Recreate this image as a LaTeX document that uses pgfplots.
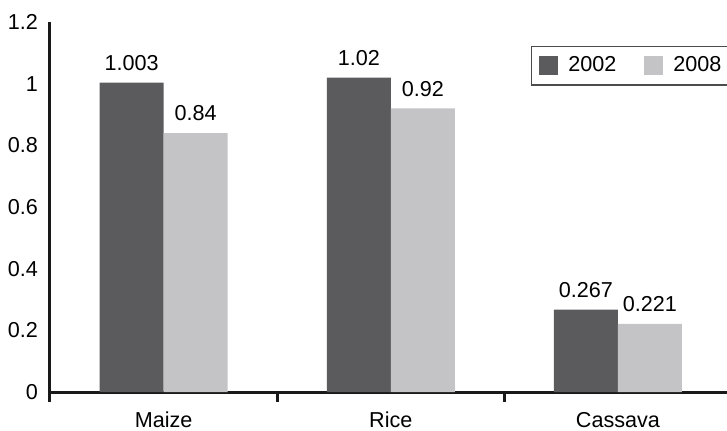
\documentclass[border=0pt]{standalone}
\usepackage{pgfplots}
\pgfplotsset{compat=1.18}
\usepackage{fontspec}
\setmainfont{Liberation Sans}
\definecolor{dk}{HTML}{5B5B5D}
\definecolor{lt}{HTML}{C4C4C6}
\begin{document}
\begin{tikzpicture}[font=\fontsize{10.8}{12}\selectfont]
\begin{axis}[
  scale only axis, width=338.5pt, height=185pt,
  ymin=0, ymax=1.2, xmin=-0.5, xmax=2.48,
  axis x line*=bottom, axis y line*=left,
  axis line style={line width=1.5pt, black!90},
  ybar=0pt, bar width=32pt,
  xtick={0,1,2}, xticklabels={Maize,Rice,Cassava},
  ytick={0,0.2,0.4,0.6,0.8,1,1.2},
  yticklabels={0,0.2,0.4,0.6,0.8,1,1.2},
  major tick length=0pt,
  extra x ticks={-0.5,0.5,1.5}, extra x tick labels={},
  extra x tick style={major tick length=5pt, tick align=outside, tick style={line width=1.5pt, black!90}},
  xticklabel style={yshift=-6.5pt},
  yticklabel style={xshift=-2.5pt},
  nodes near coords, point meta=explicit symbolic,
  every node near coord/.append style={yshift=2.5pt, font=\fontsize{10.8}{12}\selectfont, black},
  legend style={at={(0.71,0.935)}, anchor=north west, legend columns=2,
    draw=black!70, line width=0.7pt, inner xsep=4pt, inner ysep=3pt,
    /tikz/every odd column/.append style={column sep=3pt},
    /tikz/every even column/.append style={column sep=12pt},
    font=\fontsize{10.8}{12}\selectfont},
  legend image code/.code={\fill[#1] (0pt,-4.75pt) rectangle (9.5pt,4.75pt);},
]
\addplot[fill=dk, draw=none] coordinates {(0,1.003)[1.003] (1,1.02)[1.02] (2,0.267)[0.267]};
\addplot[fill=lt, draw=none] coordinates {(0,0.84)[0.84] (1,0.92)[0.92] (2,0.221)[0.221]};
\legend{2002,2008}
\end{axis}
\pgfresetboundingbox
\path (-25pt,-19pt) rectangle (338.5pt,196pt);
\end{tikzpicture}
\end{document}
